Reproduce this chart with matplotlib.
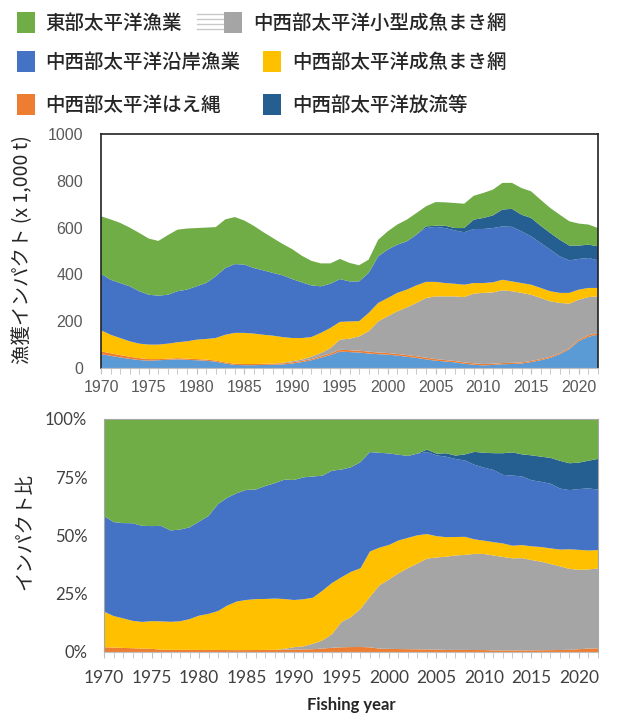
import numpy as np
import matplotlib
matplotlib.use("Agg")
import matplotlib.pyplot as plt
from matplotlib.patches import Rectangle
from matplotlib.lines import Line2D

years = list(range(1970, 2023))

# catch impact by fishery (x 1,000 t)
light_blue = [59, 52, 45, 39, 34, 31, 33, 35, 37, 35, 33, 31, 27, 19, 13, 12, 12, 13, 14, 15,
              19, 25, 33, 44, 55, 70, 68, 66, 62, 59, 57, 53, 48, 43, 37, 31, 28, 24, 18, 14,
              11, 13, 16, 17, 19, 25, 33, 43, 59, 80, 115, 133, 143]
longline = [12, 11, 10, 9, 8, 7, 5, 5, 5, 5, 5, 5, 5, 5, 5, 5, 5, 5, 5, 5,
            5, 5, 5, 6, 7, 8, 8, 8, 8, 7, 7, 7, 7, 7, 7, 7, 6, 6, 6, 6,
            6, 5, 5, 5, 5, 5, 5, 5, 5, 5, 6, 7, 7]
small_purse = [0, 0, 0, 0, 0, 0, 0, 0, 0, 0, 0, 0, 0, 0, 0, 0, 0, 0, 0, 2,
               5, 6, 10, 14, 23, 43, 49, 61, 87, 133, 157, 182, 204, 228, 255, 268, 272, 276, 279, 298,
               304, 305, 311, 306, 297, 283, 261, 237, 214, 190, 171, 163, 156]
adult_purse = [90, 79, 73, 66, 62, 62, 62, 64, 68, 74, 83, 88, 96, 118, 132, 133, 130, 124, 119, 110,
               99, 92, 84, 86, 86, 76, 74, 65, 78, 79, 78, 79, 76, 75, 69, 62, 57, 54, 53, 45,
               42, 43, 45, 42, 42, 43, 43, 43, 43, 46, 43, 39, 36]
coastal = [242, 235, 235, 235, 224, 213, 209, 209, 218, 221, 228, 239, 264, 285, 294, 292, 280, 275, 268, 264,
           252, 238, 221, 199, 189, 183, 171, 170, 171, 199, 207, 206, 206, 217, 230, 235, 235, 228, 224, 231,
           231, 232, 228, 233, 221, 207, 192, 178, 156, 139, 131, 128, 118]
release = [0, 0, 0, 0, 0, 0, 0, 0, 0, 0, 0, 0, 0, 0, 0, 0, 0, 0, 0, 0,
           0, 0, 0, 0, 0, 0, 0, 0, 0, 0, 0, 0, 0, 0, 7, 5, 10, 10, 18, 40,
           47, 54, 72, 77, 71, 78, 74, 71, 71, 63, 57, 57, 60]
eastern = [245, 258, 257, 251, 249, 240, 234, 255, 263, 261, 249, 237, 210, 208, 201, 188, 180, 163, 149, 134,
           128, 114, 105, 98, 87, 86, 79, 69, 57, 71, 78, 86, 93, 92, 86, 101, 100, 107, 104, 102,
           107, 110, 114, 111, 114, 114, 111, 107, 107, 104, 94, 86, 78]

labels = ["東部太平洋漁業", "中西部太平洋沿岸漁業", "中西部太平洋はえ縄",
          "中西部太平洋小型成魚まき網", "中西部太平洋成魚まき網", "中西部太平洋放流等"]

C_LB = "#5B9BD5"
C_OR = "#ED7D31"
C_GR = "#A5A5A5"
C_YE = "#FFC000"
C_BL = "#4472C4"
C_DB = "#255E91"
C_GN = "#70AD47"

CJK = ["Noto Sans CJK JP", "DejaVu Sans"]
TXT = "#262626"

fig = plt.figure(figsize=(6.33, 7.13), dpi=100)

# ---- top: absolute impact
ax1 = fig.add_axes([0.1596, 0.4839, 0.7851, 0.3282])
ax1.stackplot(years, light_blue, longline, small_purse, adult_purse, coastal, release, eastern,
              colors=[C_LB, C_OR, C_GR, C_YE, C_BL, C_DB, C_GN], linewidth=0)
ax1.set_xlim(1970, 2022)
ax1.set_ylim(0, 1000)
ax1.set_yticks(range(0, 1001, 200))
ax1.set_xticks(range(1970, 2021, 5))
ax1.set_xticks(years, minor=True)
ax1.tick_params(axis="y", length=0, pad=13, labelsize=11.5, labelcolor="#595959")
ax1.tick_params(axis="x", which="both", length=4, color="#bfbfbf", pad=5,
                labelsize=11.5, labelcolor="#595959")
for lab in ax1.get_xticklabels() + ax1.get_yticklabels():
    lab.set_fontfamily("Liberation Sans")
for s in ["top", "left", "right"]:
    ax1.spines[s].set_color("#222222")
    ax1.spines[s].set_linewidth(1.2)
ax1.spines["bottom"].set_color("#bfbfbf")

# ---- bottom: share (light blue layer is not part of the share)
parts = np.array([longline, small_purse, adult_purse, coastal, release, eastern], dtype=float)
share = parts / parts.sum(axis=0) * 100

ax2 = fig.add_axes([0.1643, 0.0856, 0.7804, 0.3268])
ax2.stackplot(years, share, colors=[C_OR, C_GR, C_YE, C_BL, C_DB, C_GN], linewidth=0)
ax2.set_xlim(1970, 2022)
ax2.set_ylim(0, 100)
ax2.set_yticks([0, 25, 50, 75, 100])
ax2.set_yticklabels(["0%", "25%", "50%", "75%", "100%"])
ax2.set_xticks(range(1970, 2021, 5))
ax2.set_xticks(years, minor=True)
ax2.tick_params(axis="y", length=0, pad=12, labelsize=12, labelcolor="#404040")
ax2.tick_params(axis="x", which="both", length=4, color="#bfbfbf", pad=9,
                labelsize=12.5, labelcolor="#404040")
for lab in ax2.get_xticklabels() + ax2.get_yticklabels():
    lab.set_fontfamily("Lato")
for s in ax2.spines.values():
    s.set_color("#a6a6a6")
    s.set_linewidth(0.8)
ax2.spines["bottom"].set_color("#bfbfbf")

fig.text(351 / 633, 1 - 705 / 713, "Fishing year", ha="center", va="center",
         fontsize=12, fontweight="bold", family="Lato", color=TXT)

fig.text(23 / 633, 1 - 250 / 713, "漁獲インパクト (x 1,000 t)", rotation=90,
         ha="center", va="center", fontsize=14, family=CJK, color=TXT)
fig.text(25 / 633, 1 - 531 / 713, "インパクト比", rotation=90,
         ha="center", va="center", fontsize=14, family=CJK, color=TXT)

# ---- legend, laid out like the original (flow layout)
W, H = 633.0, 713.0
legend_items = [
    (labels[0], C_GN, 17, 23, 45),
    (labels[1], C_BL, 17, 62, 45),
    (labels[2], C_OR, 17, 105, 45),
    (labels[3], C_GR, 224, 23, 253),
    (labels[4], C_YE, 263, 62, 292),
    (labels[5], C_DB, 263, 105, 292),
]
for text, col, sx, cy, tx in legend_items:
    fig.patches.append(Rectangle((sx / W, 1 - (cy + 10) / H), 18 / W, 21 / H,
                                 transform=fig.transFigure, facecolor=col, edgecolor="none"))
    fig.text(tx / W, 1 - cy / H, text, ha="left", va="center", fontsize=14,
             fontweight="medium", family=CJK, color=TXT)
for yy in [14, 19, 24, 29]:
    fig.lines.append(Line2D([197 / W, 223 / W], [1 - yy / H, 1 - yy / H],
                            transform=fig.transFigure, color="#c8c8c8", linewidth=1))

fig.savefig("out.png", dpi=100)
